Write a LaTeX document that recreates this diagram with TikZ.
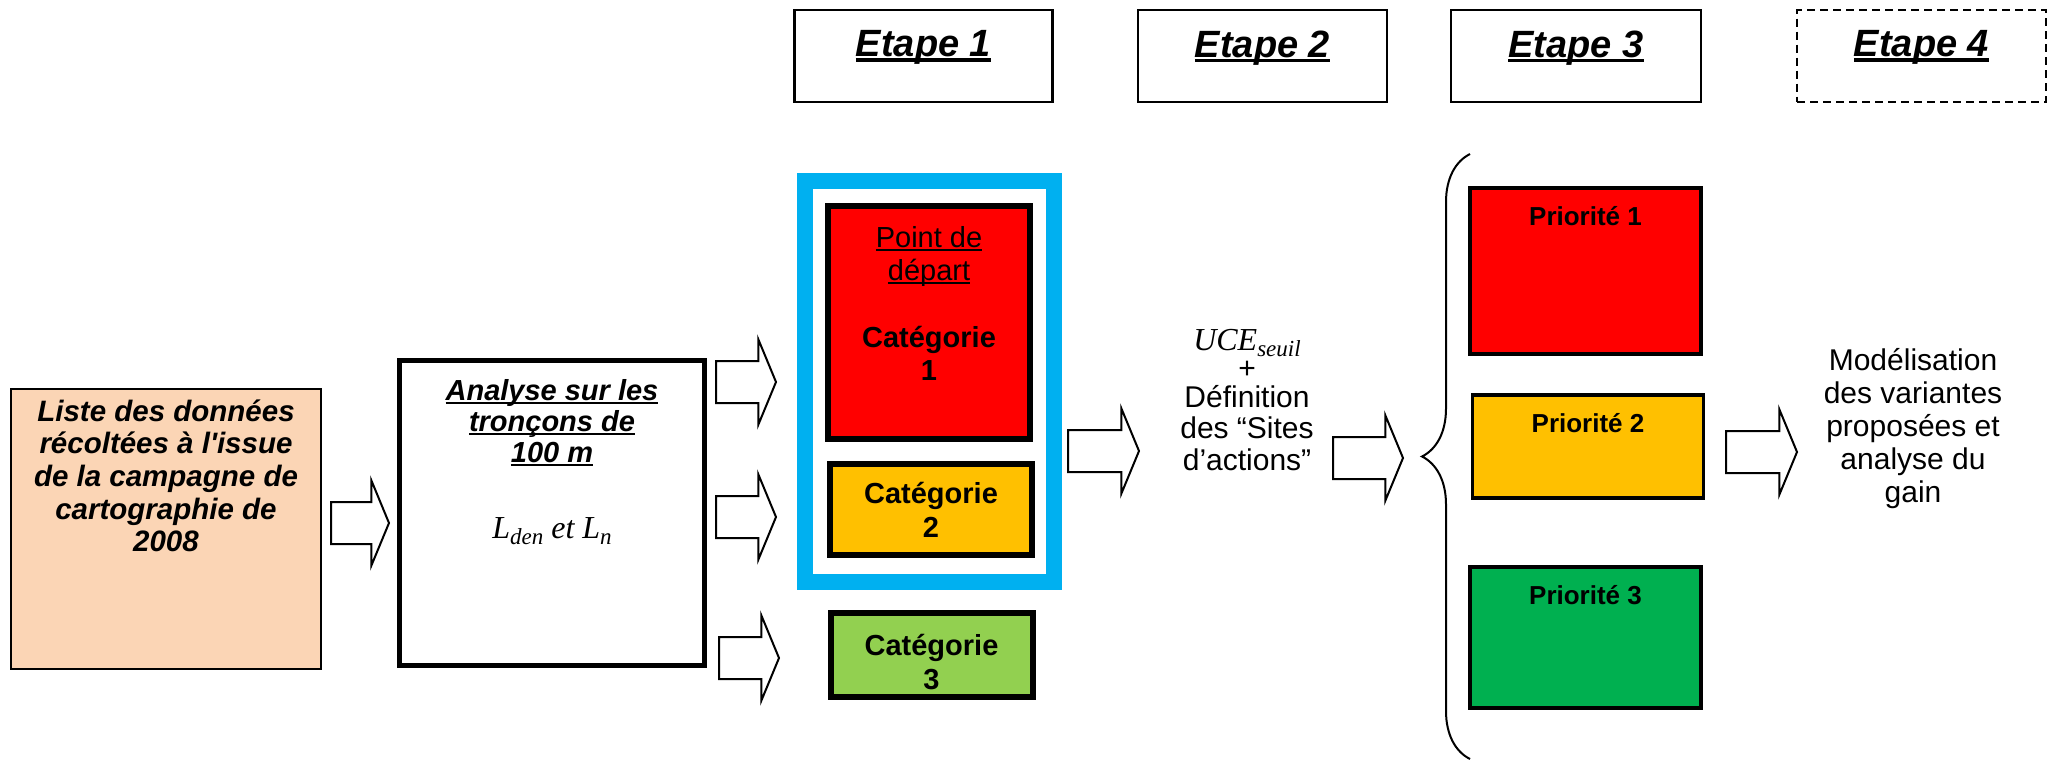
\documentclass[tikz,border=0pt]{standalone}
\usepackage{fontspec}
\setmainfont{Liberation Sans}
\newfontfamily\formule{Liberation Serif}
\usetikzlibrary{positioning,shapes.arrows,decorations.pathreplacing}

\definecolor{peche}{HTML}{FBD5B5}
\definecolor{bleu}{HTML}{00B0F0}
\definecolor{rouge}{HTML}{FF0000}
\definecolor{ambre}{HTML}{FFC000}
\definecolor{vertclair}{HTML}{92D050}
\definecolor{vertfonce}{HTML}{00B050}

% soulignement epais
\newcommand{\souligne}[1]{\setbox0=\hbox{#1}\hbox{\rlap{\rule[-0.13em]{\wd0}{0.085em}}\box0}}
% indice en italique
\newcommand{\ind}[1]{\raisebox{-0.2em}{\fontsize{23}{24}\selectfont #1}}

\begin{document}
\begin{tikzpicture}[x=1pt,y=-1pt,
	boite/.style={draw, inner sep=0pt},
	etapebox/.style={boite, line width=2.5pt, minimum width=#1, minimum height=91.5pt},
	etapetexte/.style={anchor=north, yshift=-18pt, font=\fontsize{38}{44}\selectfont\bfseries\itshape},
	categorie/.style={boite, line width=6pt, minimum width=202pt, align=center, font=\fontsize{29}{34}\selectfont\bfseries},
	priorite/.style={boite, line width=3.5pt, minimum width=231pt},
	prioritexte/.style={anchor=north, yshift=-17pt, font=\fontsize{26}{30}\selectfont\bfseries},
	dedans/.style={anchor=north, align=center},
	texte/.style={align=center, font=\fontsize{30}{32.5}\selectfont},
	fleche/.style={single arrow, draw, fill=white, line width=2pt, inner xsep=0pt, inner ysep=20pt,
		single arrow head extend=21.5pt, single arrow tip angle=135, minimum height=#1, anchor=tail}]

	\useasboundingbox (0,0) rectangle (2060,760);

	% les etapes
	\node[etapebox=258pt, label={[etapetexte]north:\souligne{Etape 1}}] (etape1) at (923.5,56) {};
	\node[etapebox=249pt, label={[etapetexte]north:\souligne{Etape 2}}] (etape2) at (1262.5,56) {};
	\node[etapebox=250pt, label={[etapetexte]north:\souligne{Etape 3}}] (etape3) at (1576,56) {};
	\node[etapebox=249pt, dash pattern=on 8pt off 5pt, label={[etapetexte]north:\souligne{Etape 4}}] (etape4) at (1921.5,56) {};

	% donnees et analyse
	\node[boite, fill=peche, line width=2pt, minimum width=310pt, minimum height=280pt,
		label={[dedans, yshift=-8pt, font=\fontsize{29.5}{32.7}\selectfont\bfseries\itshape]north:{Liste des données\\récoltées à l\textquotesingle issue\\de la campagne de\\cartographie de\\2008}}] (liste) at (166,529) {};
	\node[boite, line width=5pt, minimum width=305pt, minimum height=305pt,
		label={[dedans, yshift=-18pt, font=\fontsize{29}{31}\selectfont]north:{\textbf{\textit{\souligne{Analyse sur les}}}\\\textbf{\textit{\souligne{tronçons de}}}\\\textbf{\textit{\souligne{100 m}}}\\[45pt]{\formule\itshape\fontsize{32}{32}\selectfont L\ind{den} et L\ind{n}}}}] (analyse) at (552,513) {};

	% etape 1 : categories
	\node[boite, draw=bleu, line width=16pt, minimum width=249pt, minimum height=401pt] (cadre) at (929.5,381.5) {};
	\node[categorie, fill=rouge, minimum height=233pt,
		label={[dedans, yshift=-20pt, font=\fontsize{29}{33}\selectfont]north:{\souligne{Point de}\\\souligne{départ}\\[34pt]\textbf{Catégorie}\\\textbf{1}}}] (cat1) at (929,322.5) {};
	\node[categorie, fill=ambre, minimum height=91pt] (cat2) at (931,509.5) {Catégorie\\2};
	\node[categorie, fill=vertclair, minimum height=84pt,
		label={[align=center, yshift=-7pt, font=\fontsize{29}{34}\selectfont\bfseries]center:{Catégorie\\3}}] (cat3) at (931.5,655) {};

	% etape 2
	\node[texte] (seuil) at (1247,400) {{\formule\itshape\fontsize{32}{32}\selectfont UCE\ind{seuil}}\\[-4pt]+\\[-4pt]Définition\\[-1pt]des “Sites\\[-1pt]d’actions”};

	% etape 3 : priorites
	\coordinate (acc-haut) at (1470,154);
	\coordinate (acc-bas) at (1470,759);
	\draw[line width=2pt, decorate, decoration={brace, amplitude=48pt}] (acc-bas) -- (acc-haut);
	\node[priorite, fill=rouge, minimum height=166pt, label={[prioritexte]north:Priorité 1}] (prio1) at (1585.5,271) {};
	\node[priorite, fill=ambre, minimum height=103pt, label={[prioritexte]north:Priorité 2}] (prio2) at (1588,446.5) {};
	\node[priorite, fill=vertfonce, minimum height=141pt, label={[prioritexte]north:Priorité 3}] (prio3) at (1585.5,637.5) {};

	% etape 4
	\node[texte, font=\fontsize{30}{33}\selectfont] (modelisation) at (1913,429) {Modélisation\\des variantes\\proposées et\\analyse du\\gain};

	% fleches
	\node[fleche=58pt] (f1) at (330,523) {};
	\node[fleche=60pt] (f2) at (715,382) {};
	\node[fleche=60pt] (f3) at (715,517) {};
	\node[fleche=60pt] (f4) at (718,658) {};
	\node[fleche=71pt] (f5) at (1067,451) {};
	\node[fleche=70pt] (f6) at (1332,458) {};
	\node[fleche=71pt] (f7) at (1725,452) {};

\end{tikzpicture}
\end{document}
